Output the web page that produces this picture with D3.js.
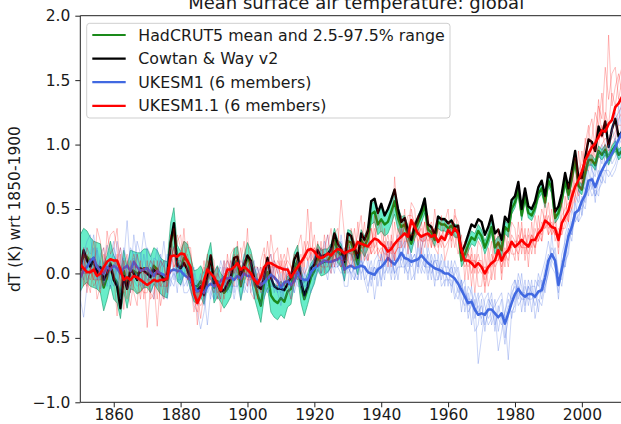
<!DOCTYPE html>
<html>
<head>
<meta charset="utf-8">
<script src="https://cdn.jsdelivr.net/npm/d3@7"></script>
<style>
  html, body { margin: 0; padding: 0; background: #fff; overflow: hidden; }
  svg { display: block; font-family: "DejaVu Sans", sans-serif; }
</style>
</head>
<body>
<svg id="chart" width="621" height="424"></svg>
<script>
// Annual global mean surface air temperature anomalies (K) relative to 1850-1900, 1850..2014
const firstYear = 1850;

const hadcrut5Mean = [
  0.08, 0.13, 0.13, 0.09, 0.07, 0.06, 0.04, -0.11, -0.03, 0.08,
  -0.03, -0.07, -0.18, 0.02, -0.11, 0.03, 0.02, 0.00, 0.01, 0.04,
  0.04, -0.01, 0.06, 0.03, -0.02, -0.04, -0.05, 0.23, 0.36, 0.08,
  0.04, 0.12, 0.10, 0.00, -0.10, -0.10, -0.06, -0.12, 0.02, 0.12,
  -0.11, -0.06, -0.11, -0.15, -0.12, -0.07, 0.08, 0.10, -0.10, 0.03,
  0.13, 0.07, -0.06, -0.16, -0.25, -0.07, 0.01, -0.17, -0.21, -0.23,
  -0.19, -0.22, -0.14, -0.12, 0.04, 0.10, -0.10, -0.20, -0.12, -0.03,
  0.02, 0.13, 0.08, 0.09, 0.10, 0.14, 0.26, 0.17, 0.14, 0.03,
  0.25, 0.24, 0.16, 0.07, 0.26, 0.21, 0.27, 0.46, 0.48, 0.38,
  0.42, 0.38, 0.40, 0.48, 0.56, 0.43, 0.36, 0.38, 0.30, 0.23,
  0.33, 0.39, 0.45, 0.53, 0.34, 0.32, 0.26, 0.40, 0.38, 0.38,
  0.35, 0.37, 0.33, 0.33, 0.10, 0.15, 0.22, 0.28, 0.26, 0.33,
  0.29, 0.20, 0.27, 0.36, 0.20, 0.24, 0.18, 0.36, 0.33, 0.50,
  0.55, 0.65, 0.45, 0.60, 0.47, 0.45, 0.51, 0.62, 0.66, 0.55,
  0.72, 0.66, 0.43, 0.47, 0.57, 0.72, 0.61, 0.74, 0.88, 0.68,
  0.65, 0.78, 0.88, 0.88, 0.84, 0.95, 0.92, 0.96, 0.88, 0.95,
  0.99, 0.92, 0.95, 0.97, 1.00
];

const hadcrut5Lower = [
  -0.14, -0.09, -0.07, -0.10, -0.11, -0.12, -0.15, -0.29, -0.20, -0.09,
  -0.20, -0.23, -0.35, -0.14, -0.27, -0.12, -0.13, -0.16, -0.14, -0.11,
  -0.11, -0.15, -0.08, -0.12, -0.16, -0.18, -0.19, 0.07, 0.21, -0.06,
  -0.09, -0.01, -0.03, -0.13, -0.22, -0.23, -0.18, -0.24, -0.10, 0.00,
  -0.23, -0.18, -0.22, -0.27, -0.23, -0.18, -0.03, -0.01, -0.21, -0.08,
  0.02, -0.04, -0.18, -0.28, -0.38, -0.19, -0.11, -0.30, -0.34, -0.36,
  -0.32, -0.35, -0.26, -0.24, -0.08, -0.02, -0.23, -0.33, -0.24, -0.14,
  -0.08, 0.03, -0.02, -0.01, 0.01, 0.05, 0.17, 0.08, 0.05, -0.06,
  0.16, 0.15, 0.08, -0.01, 0.18, 0.13, 0.19, 0.38, 0.40, 0.30,
  0.33, 0.29, 0.31, 0.38, 0.46, 0.34, 0.28, 0.31, 0.23, 0.16,
  0.27, 0.33, 0.39, 0.47, 0.29, 0.27, 0.21, 0.35, 0.33, 0.33,
  0.30, 0.32, 0.28, 0.28, 0.05, 0.10, 0.17, 0.23, 0.21, 0.28,
  0.24, 0.15, 0.22, 0.31, 0.15, 0.19, 0.13, 0.31, 0.28, 0.46,
  0.51, 0.61, 0.41, 0.56, 0.43, 0.41, 0.47, 0.58, 0.62, 0.51,
  0.68, 0.62, 0.39, 0.43, 0.53, 0.68, 0.57, 0.70, 0.84, 0.64,
  0.61, 0.74, 0.84, 0.84, 0.80, 0.91, 0.88, 0.92, 0.84, 0.91,
  0.95, 0.88, 0.91, 0.93, 0.96
];

const hadcrut5Upper = [
  0.30, 0.35, 0.33, 0.28, 0.25, 0.24, 0.23, 0.07, 0.14, 0.25,
  0.14, 0.09, -0.01, 0.18, 0.05, 0.18, 0.17, 0.16, 0.16, 0.19,
  0.19, 0.13, 0.20, 0.18, 0.12, 0.10, 0.09, 0.39, 0.51, 0.22,
  0.17, 0.25, 0.23, 0.13, 0.02, 0.03, 0.06, 0.00, 0.14, 0.24,
  0.01, 0.06, 0.00, -0.03, -0.01, 0.04, 0.19, 0.21, 0.01, 0.14,
  0.24, 0.18, 0.06, -0.04, -0.12, 0.05, 0.13, -0.04, -0.08, -0.10,
  -0.06, -0.09, -0.02, 0.00, 0.16, 0.22, 0.03, -0.07, 0.00, 0.08,
  0.12, 0.23, 0.18, 0.19, 0.19, 0.23, 0.35, 0.26, 0.23, 0.12,
  0.34, 0.33, 0.24, 0.15, 0.34, 0.29, 0.35, 0.54, 0.56, 0.46,
  0.51, 0.47, 0.49, 0.58, 0.66, 0.52, 0.44, 0.45, 0.37, 0.30,
  0.39, 0.45, 0.51, 0.59, 0.39, 0.37, 0.31, 0.45, 0.43, 0.43,
  0.40, 0.42, 0.38, 0.38, 0.15, 0.20, 0.27, 0.33, 0.31, 0.38,
  0.34, 0.25, 0.32, 0.41, 0.25, 0.29, 0.23, 0.41, 0.38, 0.54,
  0.59, 0.69, 0.49, 0.64, 0.51, 0.49, 0.55, 0.66, 0.70, 0.59,
  0.76, 0.70, 0.47, 0.51, 0.61, 0.76, 0.65, 0.78, 0.92, 0.72,
  0.69, 0.82, 0.92, 0.92, 0.88, 0.99, 0.96, 1.00, 0.92, 0.99,
  1.03, 0.96, 0.99, 1.01, 1.04
];

const cowtanWay = [
  0.02, 0.18, 0.10, 0.05, 0.12, 0.00, 0.05, -0.05, 0.00, 0.07,
  -0.05, -0.10, -0.27, -0.02, -0.12, 0.03, 0.00, -0.05, 0.04, 0.02,
  0.00, -0.03, 0.03, 0.00, 0.00, -0.06, -0.02, 0.24, 0.39, 0.06,
  0.04, 0.08, 0.03, -0.05, -0.12, -0.13, -0.10, -0.17, -0.03, 0.14,
  -0.08, -0.08, -0.14, -0.13, -0.08, -0.03, 0.12, 0.13, -0.02, 0.07,
  0.14, 0.10, -0.04, -0.10, -0.12, -0.03, 0.12, -0.03, -0.10, -0.12,
  -0.12, -0.13, -0.08, -0.03, 0.11, 0.16, -0.06, -0.17, -0.10, 0.04,
  0.07, 0.18, 0.13, 0.14, 0.15, 0.19, 0.31, 0.23, 0.19, 0.09,
  0.31, 0.29, 0.20, 0.12, 0.31, 0.26, 0.33, 0.56, 0.58, 0.47,
  0.54, 0.45, 0.50, 0.57, 0.65, 0.50, 0.40, 0.43, 0.33, 0.26,
  0.37, 0.43, 0.49, 0.58, 0.38, 0.36, 0.30, 0.44, 0.42, 0.42,
  0.39, 0.41, 0.36, 0.37, 0.16, 0.22, 0.30, 0.38, 0.36, 0.42,
  0.40, 0.30, 0.36, 0.45, 0.31, 0.34, 0.26, 0.44, 0.40, 0.57,
  0.60, 0.71, 0.50, 0.66, 0.52, 0.50, 0.56, 0.67, 0.72, 0.60,
  0.78, 0.72, 0.48, 0.52, 0.62, 0.78, 0.66, 0.80, 0.95, 0.74,
  0.74, 0.90, 1.04, 1.02, 0.95, 1.14, 1.07, 1.18, 0.98, 1.12,
  1.20, 1.06, 1.10, 1.15, 1.20
];

const ukesm1Mean = [
  -0.03, 0.02, 0.05, 0.10, 0.12, 0.05, 0.02, 0.00, 0.05, 0.03,
  0.06, 0.04, 0.00, 0.04, 0.06, 0.02, 0.09, 0.05, 0.02, 0.03,
  0.04, 0.01, -0.02, 0.02, 0.00, -0.01, -0.03, 0.02, 0.03, 0.02,
  0.02, -0.01, -0.03, -0.05, -0.10, -0.14, -0.13, -0.15, -0.10, -0.08,
  -0.10, -0.08, -0.06, -0.03, -0.04, -0.03, -0.05, -0.02, -0.04, 0.00,
  -0.02, -0.02, -0.04, -0.05, -0.09, -0.07, -0.04, -0.01, -0.03, -0.06,
  -0.11, -0.07, -0.06, -0.09, -0.06, 0.01, -0.04, -0.05, -0.05, 0.01,
  0.04, 0.06, 0.08, 0.10, 0.09, 0.09, 0.10, 0.11, 0.13, 0.03,
  0.05, 0.06, 0.04, 0.05, 0.06, 0.05, 0.01, 0.00, -0.01, 0.03,
  0.05, 0.08, 0.12, 0.09, 0.07, 0.11, 0.16, 0.12, 0.11, 0.09,
  0.10, 0.11, 0.14, 0.11, 0.08, 0.06, 0.04, 0.03, 0.02, 0.00,
  0.00, -0.02, -0.04, -0.08, -0.13, -0.18, -0.23, -0.22, -0.28, -0.32,
  -0.31, -0.32, -0.28, -0.28, -0.31, -0.34, -0.31, -0.39, -0.31, -0.23,
  -0.16, -0.12, -0.16, -0.18, -0.16, -0.16, -0.18, -0.14, -0.13, -0.03,
  0.10, 0.15, 0.10, -0.09, 0.03, 0.16, 0.29, 0.36, 0.47, 0.49,
  0.56, 0.61, 0.72, 0.73, 0.67, 0.74, 0.80, 0.85, 0.89, 0.93,
  0.98, 1.04, 1.09, 1.10, 1.12
];

const ukesm11Mean = [
  0.065, 0.04, 0.01, 0.01, 0.03, -0.02, 0.00, 0.05, 0.09, 0.11,
  0.10, 0.10, 0.03, -0.05, -0.03, -0.05, -0.02, -0.03, -0.05, -0.07,
  -0.09, -0.07, -0.05, -0.06, -0.05, -0.05, -0.04, 0.13, 0.14, 0.13,
  0.155, 0.15, 0.10, 0.05, -0.155, -0.23, -0.17, -0.05, 0.03, 0.00,
  -0.03, -0.08, -0.13, -0.05, 0.03, 0.03, 0.05, 0.08, 0.03, 0.05,
  0.03, 0.00, -0.05, -0.08, -0.03, 0.05, 0.08, 0.08, 0.065, 0.05,
  0.04, 0.03, 0.03, -0.03, 0.01, 0.05, 0.09, 0.13, 0.18, 0.19,
  0.17, 0.13, 0.12, 0.13, 0.155, 0.14, 0.17, 0.19, 0.18, 0.155,
  0.17, 0.18, 0.19, 0.245, 0.23, 0.22, 0.21, 0.245, 0.27, 0.26,
  0.23, 0.21, 0.17, 0.19, 0.23, 0.26, 0.285, 0.31, 0.285, 0.414,
  0.36, 0.31, 0.285, 0.30, 0.31, 0.285, 0.30, 0.245, 0.285, 0.26,
  0.336, 0.30, 0.35, 0.31, 0.18, 0.10, 0.10, 0.08, 0.05, 0.08,
  0.05, 0.00, 0.05, 0.08, 0.10, 0.18, 0.10, 0.155, 0.18, 0.246,
  0.207, 0.23, 0.26, 0.23, 0.21, 0.26, 0.26, 0.31, 0.34, 0.41,
  0.39, 0.36, 0.35, 0.26, 0.39, 0.44, 0.49, 0.595, 0.673, 0.725,
  0.79, 0.88, 0.93, 0.98, 1.01, 1.06, 1.11, 1.10, 1.16, 1.19,
  1.29, 1.32, 1.37, 1.36, 1.40
];

// UKESM1 individual ensemble members
const ukesm1Member1 = [
  0.10, -0.05, 0.20, 0.15, 0.30, 0.12, -0.05, 0.08, 0.22, 0.05,
  0.00, 0.25, 0.10, -0.10, 0.05, 0.20, 0.15, -0.05, 0.10, 0.32,
  0.15, -0.10, 0.05, 0.20, -0.05, 0.10, -0.15, 0.05, 0.15, 0.00,
  0.10, 0.05, -0.10, 0.05, -0.05, -0.25, -0.20, -0.05, -0.15, 0.00,
  -0.20, 0.00, 0.05, -0.10, 0.10, 0.05, -0.15, 0.10, 0.00, 0.15,
  0.10, 0.00, -0.10, 0.05, -0.05, -0.20, 0.05, 0.15, 0.00, -0.15,
  -0.25, -0.10, 0.05, -0.05, -0.15, 0.10, 0.00, -0.20, -0.05, 0.05,
  0.10, 0.20, 0.05, 0.15, 0.30, 0.10, 0.00, 0.20, 0.25, 0.00,
  0.20, -0.05, 0.10, 0.15, -0.05, 0.20, 0.05, -0.10, 0.10, 0.15,
  -0.10, 0.15, 0.25, 0.00, 0.20, 0.30, 0.10, 0.25, 0.05, 0.20,
  0.25, 0.05, 0.20, 0.30, 0.10, -0.05, 0.15, 0.00, 0.10, -0.10,
  0.10, -0.15, 0.05, -0.05, -0.30, -0.10, -0.35, -0.20, -0.45, -0.40,
  -0.20, -0.45, -0.25, -0.15, -0.40, -0.30, -0.20, -0.50, -0.35, -0.10,
  -0.05, -0.20, 0.00, -0.25, -0.10, -0.30, -0.05, -0.10, 0.00, 0.10,
  0.25, 0.10, 0.20, 0.00, -0.05, 0.30, 0.40, 0.30, 0.60, 0.55,
  0.70, 0.65, 0.90, 0.80, 0.75, 0.95, 0.85, 1.00, 1.05, 1.10,
  1.25, 1.15, 1.38, 1.25, 1.30
];
const ukesm1Member2 = [
  -0.20, -0.34, -0.10, 0.05, 0.00, -0.12, 0.10, -0.08, -0.02, 0.15,
  0.25, -0.05, -0.15, 0.10, 0.41, 0.05, 0.00, 0.15, -0.10, -0.05,
  -0.10, 0.05, -0.20, -0.05, 0.15, -0.10, 0.10, 0.20, -0.05, 0.10,
  -0.05, 0.15, 0.10, -0.10, -0.25, -0.30, -0.43, -0.30, -0.10, -0.20,
  0.00, -0.15, -0.20, 0.05, -0.10, -0.15, 0.05, -0.10, -0.20, -0.05,
  -0.10, 0.05, 0.10, -0.15, -0.25, 0.00, -0.10, -0.05, 0.10, 0.00,
  -0.05, -0.20, -0.15, -0.10, 0.00, -0.05, 0.05, 0.00, -0.15, 0.15,
  -0.05, 0.00, 0.15, 0.05, -0.05, 0.15, 0.25, 0.05, 0.10, -0.10,
  -0.10, 0.15, 0.00, -0.05, 0.15, -0.05, -0.15, 0.05, -0.20, 0.00,
  0.15, 0.00, 0.05, 0.25, -0.05, 0.05, 0.35, 0.00, 0.20, -0.05,
  0.00, 0.20, 0.05, 0.00, 0.20, 0.10, -0.10, 0.15, -0.05, 0.10,
  -0.10, 0.10, -0.15, -0.20, -0.05, -0.30, -0.15, -0.40, -0.20, -0.70,
  -0.50, -0.30, -0.40, -0.35, -0.20, -0.45, -0.30, -0.35, -0.67, -0.30,
  -0.25, -0.05, -0.30, -0.10, -0.20, -0.05, -0.35, -0.20, -0.25, -0.10,
  0.00, 0.30, 0.05, -0.20, 0.10, 0.05, 0.20, 0.50, 0.40, 0.65,
  0.45, 0.75, 0.60, 0.85, 0.60, 0.70, 1.00, 0.85, 0.90, 1.15,
  1.00, 1.30, 1.10, 1.35, 1.20
];
const ukesm1Member3 = [
  0.05, 0.15, 0.25, 0.30, 0.10, 0.20, 0.05, -0.10, 0.10, -0.05,
  -0.10, 0.08, 0.20, 0.00, -0.12, -0.05, 0.30, 0.12, 0.05, -0.10,
  0.20, 0.15, 0.00, -0.10, 0.05, 0.25, 0.00, -0.10, 0.05, -0.15,
  0.15, -0.10, -0.05, 0.00, 0.05, -0.10, 0.00, -0.25, -0.05, 0.05,
  -0.15, -0.05, 0.10, 0.00, -0.15, 0.10, 0.00, 0.05, 0.10, 0.05,
  0.05, -0.15, -0.05, -0.10, -0.05, -0.05, 0.10, 0.00, -0.15, -0.05,
  -0.10, 0.05, -0.05, -0.20, -0.05, 0.05, -0.15, -0.05, 0.10, -0.05,
  0.15, 0.05, 0.10, 0.25, 0.10, 0.00, 0.15, 0.10, 0.30, 0.10,
  0.10, 0.20, -0.05, 0.10, 0.05, 0.10, 0.15, -0.05, 0.05, -0.10,
  0.05, 0.20, 0.10, -0.05, 0.15, -0.05, 0.15, 0.20, 0.35, 0.10,
  0.15, 0.00, 0.30, 0.10, -0.05, 0.15, 0.05, -0.05, 0.15, 0.05,
  0.05, 0.00, 0.10, 0.00, -0.20, -0.25, -0.10, -0.15, -0.30, -0.25,
  -0.35, -0.20, -0.15, -0.40, -0.30, -0.60, -0.45, -0.30, -0.20, -0.35,
  -0.20, 0.00, -0.10, -0.30, -0.05, -0.15, -0.20, 0.00, -0.10, 0.05,
  0.15, 0.05, 0.00, -0.15, 0.15, 0.25, 0.35, 0.25, 0.55, 0.40,
  0.60, 0.55, 0.80, 0.65, 0.85, 0.75, 0.70, 0.95, 0.85, 0.90,
  1.05, 0.95, 1.20, 1.10, 1.25
];
const ukesm1Member4 = [
  -0.10, 0.10, -0.05, 0.00, 0.20, -0.05, 0.15, 0.20, 0.00, 0.10,
  0.15, 0.00, -0.20, 0.12, 0.00, -0.15, 0.05, 0.25, 0.15, 0.00,
  -0.05, 0.00, 0.12, 0.10, -0.15, -0.20, -0.05, 0.10, 0.20, 0.15,
  -0.10, 0.00, 0.05, -0.15, -0.20, -0.05, -0.10, -0.15, -0.40, -0.15,
  -0.05, -0.20, -0.10, -0.15, 0.05, -0.05, -0.20, -0.05, 0.00, -0.10,
  -0.15, 0.10, 0.00, 0.05, -0.10, 0.05, -0.15, -0.10, 0.05, 0.05,
  -0.20, -0.05, -0.10, 0.00, 0.05, 0.10, -0.10, 0.05, -0.05, 0.00,
  0.00, 0.10, 0.00, 0.05, 0.15, 0.20, 0.05, 0.20, 0.05, 0.15,
  0.00, 0.05, 0.15, -0.05, 0.10, -0.05, 0.00, 0.10, -0.05, 0.10,
  0.10, -0.05, 0.20, 0.15, 0.00, 0.20, 0.05, 0.15, -0.05, 0.15,
  -0.05, 0.25, 0.10, 0.05, 0.15, 0.00, 0.10, 0.10, -0.10, -0.05,
  -0.05, -0.05, -0.20, -0.10, -0.10, -0.05, -0.30, -0.25, -0.15, -0.30,
  -0.25, -0.40, -0.30, -0.20, -0.45, -0.25, -0.35, -0.55, -0.30, -0.15,
  -0.10, -0.25, -0.20, -0.05, -0.25, -0.10, -0.10, -0.30, -0.05, -0.15,
  0.05, 0.20, 0.15, 0.00, -0.10, 0.10, 0.15, 0.40, 0.45, 0.50,
  0.50, 0.60, 0.65, 0.75, 0.55, 0.80, 0.75, 0.70, 1.00, 0.85,
  0.90, 1.05, 1.00, 1.15, 1.05
];
const ukesm1Member5 = [
  0.15, 0.05, 0.00, 0.12, 0.05, 0.18, -0.12, -0.05, 0.08, -0.12,
  0.05, -0.10, 0.05, 0.20, 0.10, 0.00, -0.05, -0.10, -0.08, 0.15,
  0.00, 0.10, -0.05, 0.00, 0.10, 0.05, 0.15, -0.05, -0.10, 0.05,
  0.05, -0.15, -0.15, -0.10, 0.00, -0.20, -0.05, 0.00, 0.05, -0.05,
  0.00, 0.05, -0.10, 0.10, -0.05, 0.00, 0.10, 0.00, -0.10, 0.10,
  0.00, -0.10, 0.05, -0.10, -0.15, -0.15, 0.00, 0.05, -0.10, -0.15,
  0.00, -0.10, -0.15, -0.10, -0.15, -0.05, 0.05, -0.10, -0.10, 0.05,
  0.10, 0.00, 0.20, 0.05, 0.00, 0.05, 0.10, 0.05, 0.10, -0.05,
  0.05, 0.00, 0.05, 0.10, 0.00, 0.05, -0.10, 0.00, 0.00, 0.05,
  -0.05, 0.10, 0.00, 0.10, 0.10, 0.10, 0.25, 0.05, 0.10, 0.05,
  0.10, 0.10, 0.00, 0.15, 0.00, 0.10, -0.05, -0.05, 0.05, 0.00,
  0.00, 0.05, -0.05, -0.15, -0.05, -0.20, -0.25, -0.10, -0.35, -0.20,
  -0.15, -0.25, -0.35, -0.30, -0.25, -0.20, -0.15, -0.35, -0.25, -0.30,
  -0.30, -0.10, -0.15, -0.15, -0.20, -0.20, -0.15, -0.05, -0.20, -0.05,
  0.10, 0.15, 0.10, -0.10, 0.05, 0.20, 0.30, 0.35, 0.40, 0.45,
  0.55, 0.50, 0.70, 0.60, 0.65, 0.60, 0.80, 0.80, 0.75, 0.80,
  0.85, 0.95, 0.90, 1.00, 1.00
];
const ukesm1Member6 = [
  -0.25, 0.20, 0.02, 0.00, 0.08, -0.05, -0.02, 0.00, -0.10, 0.05,
  0.20, 0.10, -0.02, -0.05, -0.05, 0.05, 0.12, -0.05, 0.00, -0.12,
  0.05, -0.15, -0.08, -0.05, -0.10, -0.10, -0.20, -0.05, 0.00, -0.05,
  -0.05, 0.00, 0.00, -0.05, -0.15, -0.15, -0.05, -0.20, -0.05, -0.15,
  -0.20, -0.10, -0.05, -0.05, -0.10, -0.10, -0.10, -0.10, -0.05, -0.15,
  -0.05, 0.00, -0.20, 0.00, 0.05, -0.10, -0.15, -0.10, -0.10, -0.10,
  -0.15, -0.05, 0.00, -0.10, 0.00, -0.10, -0.10, 0.00, -0.05, -0.15,
  -0.05, 0.05, 0.00, 0.10, 0.05, 0.05, 0.05, 0.05, 0.00, 0.05,
  0.05, 0.00, -0.05, 0.05, 0.10, 0.05, 0.00, 0.00, 0.05, 0.00,
  0.15, 0.05, 0.15, 0.10, 0.00, 0.05, 0.05, 0.05, 0.00, 0.10,
  0.15, 0.05, 0.20, 0.05, 0.05, 0.05, 0.10, 0.05, 0.00, 0.00,
  -0.05, -0.10, 0.00, 0.05, -0.10, -0.15, -0.20, -0.20, -0.25, -0.15,
  -0.40, -0.30, -0.20, -0.25, -0.30, -0.35, -0.40, -0.30, -0.15, -0.20,
  -0.05, -0.15, -0.20, -0.20, -0.10, -0.15, -0.25, -0.15, -0.15, -0.10,
  0.00, 0.10, 0.05, -0.05, 0.05, 0.05, 0.35, 0.30, 0.45, 0.40,
  0.45, 0.60, 0.65, 0.70, 0.60, 0.65, 0.70, 0.80, 0.80, 0.75,
  0.80, 0.90, 1.00, 0.95, 1.00
];

// UKESM1.1 individual ensemble members
const ukesm11Member1 = [
  0.20, -0.10, 0.15, 0.05, -0.05, 0.35, 0.25, 0.00, 0.20, 0.30,
  0.33, 0.20, -0.10, 0.05, 0.15, -0.15, 0.10, 0.00, -0.20, 0.05,
  -0.42, -0.10, 0.10, -0.20, 0.05, 0.10, -0.15, 0.30, 0.05, 0.25,
  0.30, 0.05, 0.25, 0.15, -0.05, -0.40, -0.10, 0.10, -0.10, 0.15,
  0.10, -0.20, -0.05, 0.10, -0.10, 0.15, 0.20, -0.05, 0.10, 0.25,
  -0.10, 0.15, 0.05, -0.20, 0.10, 0.20, -0.05, 0.30, 0.10, 0.00,
  0.15, -0.05, 0.20, 0.05, -0.10, 0.20, 0.30, 0.05, 0.50, 0.15,
  0.30, 0.05, 0.25, 0.00, 0.20, 0.35, 0.10, 0.20, 0.57, 0.30,
  0.05, 0.35, 0.20, 0.30, 0.45, 0.10, 0.30, 0.35, 0.20, 0.50,
  0.30, 0.10, 0.25, 0.05, 0.40, 0.20, 0.45, 0.25, 0.35, 0.55,
  0.50, 0.20, 0.40, 0.25, 0.45, 0.20, 0.50, 0.30, 0.20, 0.40,
  0.50, 0.20, 0.45, 0.40, 0.10, 0.25, -0.05, 0.20, 0.00, 0.25,
  0.20, -0.15, 0.10, 0.25, -0.05, 0.35, 0.00, 0.30, 0.15, 0.40,
  0.35, 0.10, 0.40, 0.15, 0.35, 0.20, 0.45, 0.30, 0.50, 0.40,
  0.55, 0.30, 0.50, 0.20, 0.55, 0.40, 0.70, 0.60, 0.90, 0.70,
  0.95, 0.80, 1.10, 1.20, 0.95, 1.30, 1.20, 1.60, 1.35, 1.55,
  1.60, 1.35, 1.50, 1.55, 1.60
];
const ukesm11Member2 = [
  -0.10, 0.15, -0.05, -0.15, 0.10, -0.20, -0.10, 0.15, 0.00, 0.05,
  0.00, -0.33, 0.15, -0.28, 0.00, 0.10, -0.15, -0.25, 0.10, -0.20,
  0.10, -0.20, -0.15, 0.05, -0.25, -0.10, 0.05, 0.05, 0.35, 0.00,
  0.05, 0.35, 0.00, -0.10, -0.30, -0.15, -0.35, -0.15, 0.15, -0.10,
  -0.15, 0.05, -0.30, -0.15, 0.15, -0.05, -0.10, 0.25, -0.10, 0.00,
  0.35, -0.15, -0.20, 0.00, -0.15, 0.00, 0.25, 0.00, 0.15, 0.20,
  -0.10, 0.10, -0.10, -0.20, 0.05, -0.05, 0.00, 0.25, 0.10, 0.40,
  0.05, 0.25, 0.00, 0.30, 0.10, 0.00, 0.30, 0.35, 0.05, 0.10,
  0.30, 0.10, 0.35, 0.15, 0.20, 0.40, 0.10, 0.20, 0.45, 0.15,
  0.10, 0.35, 0.05, 0.30, 0.10, 0.35, 0.20, 0.50, 0.15, 0.40,
  0.25, 0.45, 0.15, 0.40, 0.20, 0.35, 0.20, 0.15, 0.45, 0.10,
  0.20, 0.40, 0.30, 0.15, 0.30, -0.05, 0.20, -0.10, 0.15, -0.10,
  -0.10, 0.15, -0.10, 0.00, 0.30, 0.10, 0.25, 0.05, 0.35, 0.20,
  0.10, 0.40, 0.15, 0.35, 0.05, 0.40, 0.15, 0.45, 0.25, 0.60,
  0.30, 0.50, 0.25, 0.35, 0.30, 0.60, 0.40, 0.80, 0.60, 0.95,
  0.70, 1.05, 0.90, 1.05, 1.25, 1.15, 1.40, 1.10, 1.85, 1.30,
  1.45, 1.55, 1.40, 1.70, 1.50
];
const ukesm11Member3 = [
  0.10, 0.05, 0.20, 0.10, 0.25, 0.05, -0.05, -0.10, 0.33, 0.15,
  0.20, 0.35, 0.00, -0.10, -0.20, 0.05, 0.15, 0.05, -0.10, -0.15,
  -0.15, 0.05, -0.05, -0.41, -0.05, -0.20, 0.00, 0.20, 0.15, 0.30,
  0.20, 0.10, 0.20, 0.20, -0.20, -0.30, -0.05, 0.05, 0.00, 0.10,
  0.00, -0.10, -0.20, 0.05, 0.10, 0.00, 0.15, 0.05, 0.20, -0.05,
  0.05, 0.10, -0.10, -0.15, 0.05, -0.05, 0.10, 0.15, -0.05, 0.10,
  0.05, 0.15, 0.05, 0.00, 0.15, 0.10, -0.05, 0.15, 0.25, 0.10,
  0.20, 0.15, 0.10, 0.20, 0.30, 0.10, 0.25, 0.10, 0.20, 0.00,
  0.20, 0.20, 0.05, 0.40, 0.10, 0.25, 0.35, 0.15, 0.30, 0.35,
  0.40, 0.20, 0.30, 0.15, 0.75, 0.40, 0.30, 0.35, 0.45, 0.45,
  0.40, 0.30, 0.35, 0.20, 0.35, 0.40, 0.25, 0.35, 0.25, 0.30,
  0.35, 0.25, 0.50, 0.30, 0.15, 0.10, 0.05, 0.15, -0.15, 0.10,
  0.10, -0.05, 0.20, -0.05, 0.10, 0.25, -0.05, 0.20, 0.05, 0.30,
  0.25, 0.20, 0.35, 0.10, 0.30, 0.15, 0.35, 0.25, 0.40, 0.35,
  0.45, 0.35, 0.40, 0.15, 0.45, 0.50, 0.55, 0.50, 0.75, 0.80,
  0.85, 1.00, 1.15, 0.90, 1.05, 1.35, 1.05, 1.25, 1.15, 1.40,
  1.30, 1.50, 1.60, 1.40, 1.55
];
const ukesm11Member4 = [
  0.00, 0.20, -0.15, 0.05, -0.10, -0.05, 0.10, 0.20, -0.05, 0.10,
  -0.05, 0.10, 0.20, 0.05, -0.10, -0.25, -0.05, 0.15, 0.05, 0.00,
  0.00, 0.10, 0.05, 0.00, 0.10, 0.05, -0.10, 0.10, 0.20, 0.05,
  0.10, 0.25, -0.05, 0.05, -0.10, -0.20, -0.25, -0.20, 0.10, -0.05,
  -0.10, 0.00, -0.05, -0.20, -0.05, 0.10, 0.00, 0.15, -0.05, 0.10,
  0.00, -0.05, 0.05, 0.05, -0.10, 0.15, 0.05, -0.05, 0.05, -0.10,
  0.10, -0.10, 0.00, -0.10, -0.05, 0.05, 0.15, 0.00, 0.05, 0.20,
  0.15, 0.20, 0.05, 0.05, 0.05, 0.20, 0.05, 0.25, 0.15, 0.20,
  0.10, 0.05, 0.25, 0.20, 0.25, 0.15, 0.10, 0.35, 0.15, 0.20,
  0.15, 0.25, 0.10, 0.25, 0.15, 0.20, 0.35, 0.20, 0.30, 0.30,
  0.30, 0.35, 0.25, 0.40, 0.30, 0.20, 0.35, 0.20, 0.30, 0.25,
  0.30, 0.35, 0.20, 0.35, 0.20, 0.15, 0.15, 0.00, 0.10, 0.05,
  0.00, 0.05, 0.00, 0.15, 0.05, 0.10, 0.20, 0.10, 0.25, 0.15,
  0.15, 0.30, 0.20, 0.30, 0.20, 0.30, 0.20, 0.35, 0.30, 0.45,
  0.35, 0.40, 0.30, 0.30, 0.35, 0.35, 0.45, 0.65, 0.55, 0.65,
  0.75, 0.85, 0.85, 1.00, 0.90, 1.00, 1.15, 0.95, 1.05, 1.10,
  1.20, 1.25, 1.30, 1.25, 1.35
];
const ukesm11Member5 = [
  0.15, 0.00, 0.00, -0.05, 0.05, 0.00, -0.15, 0.05, 0.10, 0.00,
  0.10, 0.05, -0.05, -0.15, 0.10, 0.00, -0.10, -0.15, -0.15, -0.10,
  -0.05, -0.15, -0.20, 0.10, -0.10, -0.05, 0.05, 0.00, 0.05, 0.10,
  0.15, 0.10, 0.05, -0.05, -0.15, -0.15, -0.15, -0.05, -0.05, 0.05,
  0.05, -0.15, -0.10, -0.05, 0.05, 0.00, 0.05, 0.00, 0.05, 0.00,
  0.10, 0.00, -0.10, -0.05, -0.05, 0.00, 0.05, 0.05, 0.10, 0.05,
  0.00, 0.05, 0.10, 0.05, 0.00, 0.00, 0.10, 0.10, 0.20, 0.15,
  0.10, 0.05, 0.20, 0.15, 0.15, 0.05, 0.15, 0.10, 0.05, 0.15,
  0.25, 0.15, 0.15, 0.25, 0.20, 0.20, 0.20, 0.20, 0.35, 0.15,
  0.20, 0.15, 0.15, 0.20, 0.10, 0.25, 0.25, 0.40, 0.20, 0.50,
  0.35, 0.25, 0.30, 0.30, 0.25, 0.30, 0.30, 0.25, 0.30, 0.35,
  0.40, 0.30, 0.30, 0.25, 0.15, 0.05, 0.10, 0.10, 0.05, 0.15,
  0.05, -0.10, 0.05, 0.10, 0.15, 0.15, 0.05, 0.15, 0.10, 0.25,
  0.20, 0.15, 0.25, 0.25, 0.15, 0.30, 0.25, 0.25, 0.35, 0.35,
  0.40, 0.30, 0.35, 0.25, 0.40, 0.45, 0.40, 0.55, 0.70, 0.60,
  0.70, 0.75, 0.95, 0.85, 1.00, 0.95, 1.00, 1.05, 1.00, 1.05,
  1.10, 1.20, 1.25, 1.20, 1.30
];
const ukesm11Member6 = [
  0.05, -0.05, -0.10, 0.05, -0.05, -0.05, -0.05, 0.05, 0.00, 0.05,
  0.05, 0.15, 0.00, 0.10, -0.05, -0.10, 0.05, 0.05, 0.00, 0.05,
  -0.05, -0.05, -0.05, 0.00, 0.00, -0.10, -0.10, 0.15, 0.05, 0.10,
  0.10, 0.05, 0.15, 0.05, -0.15, -0.20, -0.10, -0.10, 0.05, -0.05,
  -0.05, -0.05, -0.15, 0.00, 0.00, -0.05, 0.05, 0.05, 0.00, 0.05,
  -0.05, -0.05, 0.00, -0.10, 0.00, 0.05, 0.10, 0.05, 0.05, 0.05,
  0.05, 0.00, -0.05, -0.05, 0.05, 0.05, 0.05, 0.15, 0.10, 0.15,
  0.20, 0.10, 0.15, 0.10, 0.10, 0.15, 0.20, 0.15, 0.10, 0.10,
  0.15, 0.25, 0.10, 0.20, 0.15, 0.25, 0.25, 0.15, 0.20, 0.25,
  0.25, 0.20, 0.20, 0.20, 0.15, 0.20, 0.20, 0.25, 0.25, 0.30,
  0.40, 0.30, 0.25, 0.25, 0.30, 0.25, 0.20, 0.25, 0.25, 0.20,
  0.25, 0.30, 0.35, 0.30, 0.20, 0.10, 0.15, 0.10, 0.10, 0.00,
  0.05, 0.05, 0.05, 0.05, 0.10, 0.10, 0.15, 0.15, 0.20, 0.20,
  0.25, 0.25, 0.20, 0.20, 0.20, 0.25, 0.20, 0.30, 0.25, 0.40,
  0.30, 0.35, 0.30, 0.30, 0.30, 0.40, 0.45, 0.50, 0.60, 0.70,
  0.65, 0.80, 0.80, 0.90, 0.85, 0.90, 0.95, 1.00, 0.95, 1.00,
  1.05, 1.15, 1.15, 1.20, 1.25
];

const ukesm1Members = [ukesm1Member1, ukesm1Member2, ukesm1Member3, ukesm1Member4, ukesm1Member5, ukesm1Member6];
const ukesm11Members = [ukesm11Member1, ukesm11Member2, ukesm11Member3, ukesm11Member4, ukesm11Member5, ukesm11Member6];

const yTicks = [-1.0, -0.5, 0.0, 0.5, 1.0, 1.5, 2.0];
const xTicks = [1860, 1880, 1900, 1920, 1940, 1960, 1980, 2000];

const legendLabels = [
  "HadCRUT5 mean and 2.5-97.5% range",
  "Cowtan & Way v2",
  "UKESM1 (6 members)",
  "UKESM1.1 (6 members)"
];
const legendColors = ["#1a8a1a", "#000000", "#4169e1", "#ff0000"];

// ---- layout ----
const svg = d3.select("#chart");
const plot = { left: 80.3, right: 632, top: 15.7, bottom: 402.3 };

const x = d3.scaleLinear().domain([1850, 2015]).range([plot.left, plot.right]);
const y = d3.scaleLinear().domain([-1, 2]).range([plot.bottom, plot.top]);

const years = d3.range(firstYear, firstYear + hadcrut5Mean.length);
const toPoints = arr => arr.map((v, i) => ({ year: years[i], v }));

svg.append("defs").append("clipPath").attr("id", "plotClip")
  .append("rect")
  .attr("x", plot.left).attr("y", plot.top)
  .attr("width", plot.right - plot.left).attr("height", plot.bottom - plot.top);

const g = svg.append("g").attr("clip-path", "url(#plotClip)");

const line = d3.line().x(d => x(d.year)).y(d => y(d.v));

// HadCRUT5 uncertainty range
const band = years.map((yr, i) => ({ year: yr, lo: hadcrut5Lower[i], hi: hadcrut5Upper[i] }));
g.append("path")
  .datum(band)
  .attr("d", d3.area().x(d => x(d.year)).y0(d => y(d.lo)).y1(d => y(d.hi)))
  .attr("fill", "#2ee6b4")
  .attr("fill-opacity", 0.72)
  .attr("stroke", "#1f9e6e")
  .attr("stroke-width", 0.8)
  .attr("stroke-opacity", 0.8);

// HadCRUT5 mean
g.append("path").datum(toPoints(hadcrut5Mean))
  .attr("d", line).attr("fill", "none")
  .attr("stroke", legendColors[0]).attr("stroke-width", 2.4)
  .attr("stroke-linejoin", "round");

// Cowtan & Way
g.append("path").datum(toPoints(cowtanWay))
  .attr("d", line).attr("fill", "none")
  .attr("stroke", legendColors[1]).attr("stroke-width", 2.4)
  .attr("stroke-linejoin", "round");

// UKESM1 members and mean
ukesm1Members.forEach(m => {
  g.append("path").datum(toPoints(m))
    .attr("d", line).attr("fill", "none")
    .attr("stroke", "#4169e1").attr("stroke-opacity", 0.28).attr("stroke-width", 1);
});
g.append("path").datum(toPoints(ukesm1Mean))
  .attr("d", line).attr("fill", "none")
  .attr("stroke", legendColors[2]).attr("stroke-width", 2.6)
  .attr("stroke-linejoin", "round");

// UKESM1.1 members and mean
ukesm11Members.forEach(m => {
  g.append("path").datum(toPoints(m))
    .attr("d", line).attr("fill", "none")
    .attr("stroke", "#ff0000").attr("stroke-opacity", 0.25).attr("stroke-width", 1);
});
g.append("path").datum(toPoints(ukesm11Mean))
  .attr("d", line).attr("fill", "none")
  .attr("stroke", legendColors[3]).attr("stroke-width", 2.6)
  .attr("stroke-linejoin", "round");

// ---- axes ----
const axisColor = "#222";
const yAxis = svg.append("g")
  .attr("transform", `translate(${plot.left},0)`)
  .call(d3.axisLeft(y).tickValues(yTicks).tickFormat(d3.format(".1f"))
    .tickSize(5).tickPadding(5).tickSizeOuter(0));
const xAxis = svg.append("g")
  .attr("transform", `translate(0,${plot.bottom})`)
  .call(d3.axisBottom(x).tickValues(xTicks).tickFormat(d3.format("d"))
    .tickSize(5).tickPadding(1.8).tickSizeOuter(0));
[yAxis, xAxis].forEach(a => {
  a.select(".domain").remove();
  a.selectAll(".tick line").attr("stroke", axisColor).attr("stroke-width", 1);
  a.selectAll(".tick text")
    .attr("fill", "#1a1a1a")
    .style("font-family", "'DejaVu Sans', sans-serif")
    .style("font-size", "15.5px");
});

// spines
svg.append("line").attr("x1", plot.left).attr("x2", plot.left)
  .attr("y1", plot.top).attr("y2", plot.bottom)
  .attr("stroke", axisColor).attr("stroke-width", 1);
svg.append("line").attr("x1", plot.left).attr("x2", plot.right)
  .attr("y1", plot.bottom).attr("y2", plot.bottom)
  .attr("stroke", axisColor).attr("stroke-width", 1);
svg.append("line").attr("x1", plot.left).attr("x2", plot.right)
  .attr("y1", plot.top).attr("y2", plot.top)
  .attr("stroke", axisColor).attr("stroke-width", 1);

// y label
svg.append("text")
  .attr("transform", `translate(20,${(plot.top + plot.bottom) / 2}) rotate(-90)`)
  .attr("text-anchor", "middle")
  .attr("fill", "#1a1a1a")
  .style("font-size", "15.5px")
  .text("dT (K) wrt 1850-1900");

// title
svg.append("text")
  .attr("x", (plot.left + plot.right) / 2)
  .attr("y", 8.7)
  .attr("text-anchor", "middle")
  .attr("fill", "#1a1a1a")
  .style("font-size", "18px")
  .text("Mean surface air temperature: global");

// ---- legend ----
const legend = svg.append("g");
legend.append("rect")
  .attr("x", 86.7).attr("y", 23.3)
  .attr("width", 363.3).attr("height", 94.7)
  .attr("rx", 3)
  .attr("fill", "#fff").attr("fill-opacity", 0.85)
  .attr("stroke", "#cfcfcf").attr("stroke-width", 1);
legendLabels.forEach((label, i) => {
  const cy = 35 + i * 23.6;
  legend.append("line")
    .attr("x1", 92.3).attr("x2", 125.7)
    .attr("y1", cy).attr("y2", cy)
    .attr("stroke", legendColors[i]).attr("stroke-width", 2.2);
  legend.append("text")
    .attr("x", 138.3).attr("y", cy + 5.5)
    .attr("fill", "#1a1a1a")
    .style("font-size", "15.8px")
    .text(label);
});
</script>
</body>
</html>
